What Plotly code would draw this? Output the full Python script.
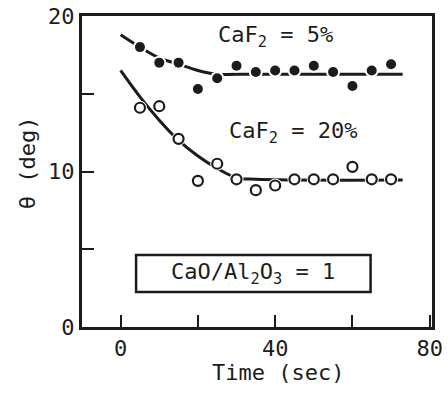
import plotly.graph_objects as go

# measured data
time = [5, 10, 15, 20, 25, 30, 35, 40, 45, 50, 55, 60, 65, 70]
theta_caf5 = [18.0, 17.0, 17.0, 15.3, 16.0, 16.8, 16.4, 16.5, 16.5, 16.8, 16.4, 15.5, 16.5, 16.9]
theta_caf20 = [14.1, 14.2, 12.1, 9.4, 10.5, 9.5, 8.8, 9.1, 9.5, 9.5, 9.5, 10.3, 9.5, 9.5]

# fitted curves
fit5_t = [0, 5, 10, 15, 20, 25, 30, 73]
fit5_y = [18.8, 18.0, 17.3, 16.9, 16.5, 16.25, 16.25, 16.25]
fit20_t = [0, 5, 10, 15, 20, 25, 30, 35, 73]
fit20_y = [16.5, 14.8, 13.3, 12.0, 11.0, 10.2, 9.6, 9.5, 9.45]

x_ticks = [0, 20, 40, 60, 80]
x_ticktext = ["0", "", "40", "", "80"]
y_ticks = [0, 5, 10, 15, 20]
y_ticktext = ["0", "", "10", "", "20"]

INK = "#1c1c1c"
FONT = "DejaVu Sans Mono"
FS = 22

fig = go.Figure()
for t, y in [(fit5_t, fit5_y), (fit20_t, fit20_y)]:
    fig.add_trace(go.Scatter(x=t, y=y, mode="lines", line=dict(color=INK, width=3, shape="spline"),
                             hoverinfo="skip"))
# white masks to break the line near markers
for y in [theta_caf5, theta_caf20]:
    fig.add_trace(go.Scatter(x=time, y=y, mode="markers",
                             marker=dict(symbol="circle", size=14, color="white"), hoverinfo="skip"))
fig.add_trace(go.Scatter(x=time, y=theta_caf5, mode="markers",
                         marker=dict(symbol="circle", size=10, color=INK)))
fig.add_trace(go.Scatter(x=time, y=theta_caf20, mode="markers",
                         marker=dict(symbol="circle-open", size=10, color=INK, line=dict(width=2.2, color=INK))))

fig.add_shape(type="rect", xref="x", yref="y", x0=4.0, x1=64.7, y0=2.25, y1=4.63,
              line=dict(color=INK, width=2.5), fillcolor="rgba(0,0,0,0)")

def note(x, y, text, ref="x", angle=0):
    fig.add_annotation(x=x, y=y, xref=ref if ref == "x" else "paper", yref="y" if ref == "x" else "paper",
                       text=text, showarrow=False, textangle=angle, xanchor="center", yanchor="middle",
                       font=dict(family=FONT, size=FS, color=INK))

note(40.2, 18.65, "CaF<sub>2</sub> = 5%")
note(44.8, 12.5, "CaF<sub>2</sub> = 20%")
note(34.2, 3.45, "CaO/Al<sub>2</sub>O<sub>3</sub> = 1")
note(0.56, -0.145, "Time (sec)", ref="paper")
note(-0.157, 0.527, "θ (deg)", ref="paper", angle=-90)

axis_common = dict(showline=True, linecolor=INK, linewidth=3, mirror=True, ticks="inside",
                   tickcolor=INK, tickwidth=2, ticklen=12, showgrid=False, zeroline=False,
                   automargin=False, tickfont=dict(family=FONT, size=FS, color=INK))
fig.update_xaxes(range=[-10, 80.6], tickmode="array", tickvals=x_ticks, ticktext=x_ticktext, **axis_common)
fig.update_yaxes(range=[0, 20], tickmode="array", tickvals=y_ticks, ticktext=y_ticktext, **axis_common)

fig.update_layout(width=448, height=394, margin=dict(l=82, r=16, t=16, b=67),
                  plot_bgcolor="white", paper_bgcolor="white", showlegend=False)
fig.write_html("out.html")
